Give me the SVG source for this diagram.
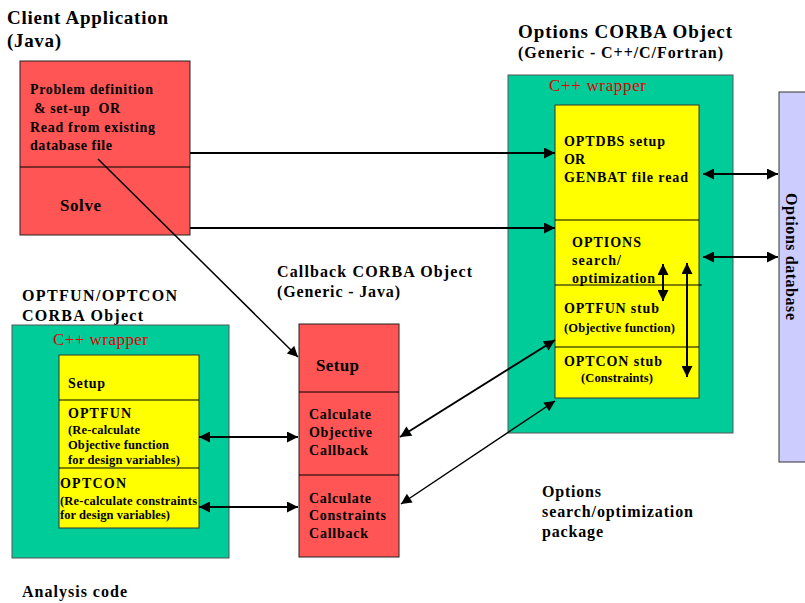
<svg xmlns="http://www.w3.org/2000/svg" width="805" height="603" viewBox="0 0 805 603">
<defs>
  <marker id="ah" viewBox="0 0 10 10" refX="10" refY="5" markerWidth="6.5" markerHeight="5.5" markerUnits="strokeWidth" orient="auto-start-reverse">
    <path d="M0,0 L10,5 L0,10 z" fill="#000"/>
  </marker>
  <marker id="ahs" viewBox="0 0 10 10" refX="10" refY="5" markerWidth="8" markerHeight="7" markerUnits="strokeWidth" orient="auto-start-reverse">
    <path d="M0,0 L10,5 L0,10 z" fill="#000"/>
  </marker>
</defs>
<style>
  text { font-family: "Liberation Serif", "Times New Roman", serif; font-weight: bold; fill: #000; }
  .h1 { font-size: 19px; }
  .h2 { font-size: 16px; }
  .t14 { font-size: 14px; }
  .t12 { font-size: 12.5px; }
  .wrap { font-size: 17px; font-weight: normal; fill: #e00000; }
  .red { fill: #ff5555; stroke: #222; stroke-width: 1; }
  .green { fill: #00cc99; stroke: #555; stroke-width: 1; }
  .yellow { fill: #ffff00; stroke: #333; stroke-width: 1; }
  .db { fill: #ccccff; stroke: #333; stroke-width: 1; }
  .div { stroke: #000; stroke-width: 1; fill: none; }
  .arr { stroke: #000; stroke-width: 2; fill: none; }
  .arr1 { stroke: #000; stroke-width: 1.5; fill: none; }
</style>

<rect width="805" height="603" fill="#fff"/>

<!-- Client application -->
<g id="client">
  <text class="h1" x="7" y="24" textLength="161" lengthAdjust="spacing">Client Application</text>
  <text class="h1" x="7" y="47" textLength="54" lengthAdjust="spacing">(Java)</text>
  <rect class="red" x="20" y="61" width="170" height="174"/>
  <line class="div" x1="20" y1="167" x2="190" y2="167"/>
  <text class="t14" x="30" y="94" textLength="123" lengthAdjust="spacing">Problem definition</text>
  <text class="t14" x="34" y="113" textLength="86" lengthAdjust="spacing" xml:space="preserve">&amp; set-up  OR</text>
  <text class="t14" x="30" y="132" textLength="125" lengthAdjust="spacing">Read from existing</text>
  <text class="t14" x="30" y="150" textLength="82" lengthAdjust="spacing">database file</text>
  <text class="h2" x="60" y="211" style="font-size:17px" textLength="41" lengthAdjust="spacing">Solve</text>
</g>

<!-- Options CORBA object -->
<g id="options">
  <text class="h1" x="518" y="38" textLength="214" lengthAdjust="spacing">Options CORBA Object</text>
  <text class="h2" x="518" y="58" textLength="205" lengthAdjust="spacing">(Generic - C++/C/Fortran)</text>
  <rect class="green" x="508" y="75" width="225" height="358"/>
  <text class="wrap" x="549" y="91" textLength="97" lengthAdjust="spacing">C++ wrapper</text>
  <rect class="yellow" x="555" y="105" width="144" height="293"/>
  <line class="div" x1="555" y1="220" x2="699" y2="220"/>
  <line class="div" x1="555" y1="285" x2="702" y2="285"/>
  <line class="div" x1="555" y1="347" x2="699" y2="347"/>
  <text class="t14" x="564" y="146" textLength="101" lengthAdjust="spacing">OPTDBS setup</text>
  <text class="t14" x="564" y="164">OR</text>
  <text class="t14" x="564" y="182" textLength="124" lengthAdjust="spacing">GENBAT file read</text>
  <text class="t14" x="572" y="247" textLength="69" lengthAdjust="spacing">OPTIONS</text>
  <text class="t14" x="572" y="265" textLength="49" lengthAdjust="spacing">search/</text>
  <text class="t14" x="572" y="283" textLength="83" lengthAdjust="spacing">optimization</text>
  <text class="t14" x="564" y="313" textLength="95" lengthAdjust="spacing">OPTFUN stub</text>
  <text class="t12" x="564" y="332" textLength="111" lengthAdjust="spacing">(Objective function)</text>
  <text class="t14" x="564" y="366" textLength="98" lengthAdjust="spacing">OPTCON stub</text>
  <text class="t12" x="581" y="382" textLength="72" lengthAdjust="spacing">(Constraints)</text>
</g>

<!-- Options database -->
<g id="database">
  <rect class="db" x="779" y="92" width="40" height="370"/>
  <text class="h2" transform="translate(786,193) rotate(90)" textLength="127" lengthAdjust="spacing">Options database</text>
</g>

<!-- Callback CORBA object -->
<g id="callback">
  <text class="h2" x="277" y="277" textLength="195" lengthAdjust="spacing">Callback CORBA Object</text>
  <text class="h2" x="277" y="297" textLength="123" lengthAdjust="spacing">(Generic - Java)</text>
  <rect class="red" x="299" y="324" width="100" height="233"/>
  <line class="div" x1="299" y1="392" x2="399" y2="392"/>
  <line class="div" x1="299" y1="475" x2="399" y2="475"/>
  <text class="h2" x="316" y="371" style="font-size:17px" textLength="43" lengthAdjust="spacing">Setup</text>
  <text class="t14" x="309" y="419" textLength="62" lengthAdjust="spacing">Calculate</text>
  <text class="t14" x="309" y="437" textLength="63" lengthAdjust="spacing">Objective</text>
  <text class="t14" x="309" y="455" textLength="59" lengthAdjust="spacing">Callback</text>
  <text class="t14" x="309" y="503" textLength="62" lengthAdjust="spacing">Calculate</text>
  <text class="t14" x="309" y="520" textLength="77" lengthAdjust="spacing">Constraints</text>
  <text class="t14" x="309" y="538" textLength="59" lengthAdjust="spacing">Callback</text>
</g>

<!-- Analysis code (OPTFUN/OPTCON) -->
<g id="analysis">
  <text class="h2" x="22" y="301" textLength="155" lengthAdjust="spacing">OPTFUN/OPTCON</text>
  <text class="h2" x="22" y="321" textLength="121" lengthAdjust="spacing">CORBA Object</text>
  <rect class="green" x="12" y="325" width="217" height="233"/>
  <text class="wrap" x="53" y="345" textLength="95" lengthAdjust="spacing">C++ wrapper</text>
  <rect class="yellow" x="59" y="355" width="140" height="173"/>
  <line class="div" x1="59" y1="400" x2="199" y2="400"/>
  <line class="div" x1="59" y1="468" x2="199" y2="468"/>
  <text class="t14" x="68" y="388" textLength="37" lengthAdjust="spacing">Setup</text>
  <text class="t14" x="68" y="418" textLength="63" lengthAdjust="spacing">OPTFUN</text>
  <text class="t12" x="68" y="434" textLength="72" lengthAdjust="spacing">(Re-calculate</text>
  <text class="t12" x="68" y="449" textLength="101" lengthAdjust="spacing">Objective function</text>
  <text class="t12" x="68" y="464" textLength="112" lengthAdjust="spacing">for design variables)</text>
  <text class="t14" x="60" y="488" textLength="66" lengthAdjust="spacing">OPTCON</text>
  <text class="t12" x="60" y="505" textLength="137" lengthAdjust="spacing">(Re-calculate constraints</text>
  <text class="t12" x="60" y="519" textLength="110" lengthAdjust="spacing">for design variables)</text>
  <text class="h2" x="22" y="597" textLength="105" lengthAdjust="spacing">Analysis code</text>
</g>

<!-- Package label -->
<g id="package">
  <text class="h2" x="542" y="497" textLength="59" lengthAdjust="spacing">Options</text>
  <text class="h2" x="542" y="517" textLength="151" lengthAdjust="spacing">search/optimization</text>
  <text class="h2" x="542" y="537" textLength="61" lengthAdjust="spacing">package</text>
</g>

<!-- Connectors -->
<g id="connectors">
  <line class="arr" x1="190" y1="153" x2="555" y2="153" marker-end="url(#ah)"/>
  <line class="arr" x1="190" y1="228" x2="555" y2="228" marker-end="url(#ah)"/>
  <line class="arr1" x1="98" y1="159" x2="298" y2="357" marker-end="url(#ahs)"/>
  <line class="arr" x1="703" y1="174" x2="778" y2="174" marker-start="url(#ah)" marker-end="url(#ah)"/>
  <line class="arr" x1="703" y1="257" x2="778" y2="257" marker-start="url(#ah)" marker-end="url(#ah)"/>
  <line class="arr" x1="663" y1="264" x2="663" y2="301" marker-start="url(#ah)" marker-end="url(#ah)"/>
  <line class="arr" x1="687" y1="263" x2="687" y2="377" marker-start="url(#ah)" marker-end="url(#ah)"/>
  <line class="arr" x1="555" y1="340" x2="400" y2="437" marker-start="url(#ah)" marker-end="url(#ah)"/>
  <line class="arr1" x1="555" y1="401" x2="401" y2="504" marker-start="url(#ahs)" marker-end="url(#ahs)"/>
  <line class="arr" x1="199" y1="437" x2="298" y2="437" marker-start="url(#ah)" marker-end="url(#ah)"/>
  <line class="arr" x1="199" y1="507" x2="298" y2="507" marker-start="url(#ah)" marker-end="url(#ah)"/>
</g>
</svg>
